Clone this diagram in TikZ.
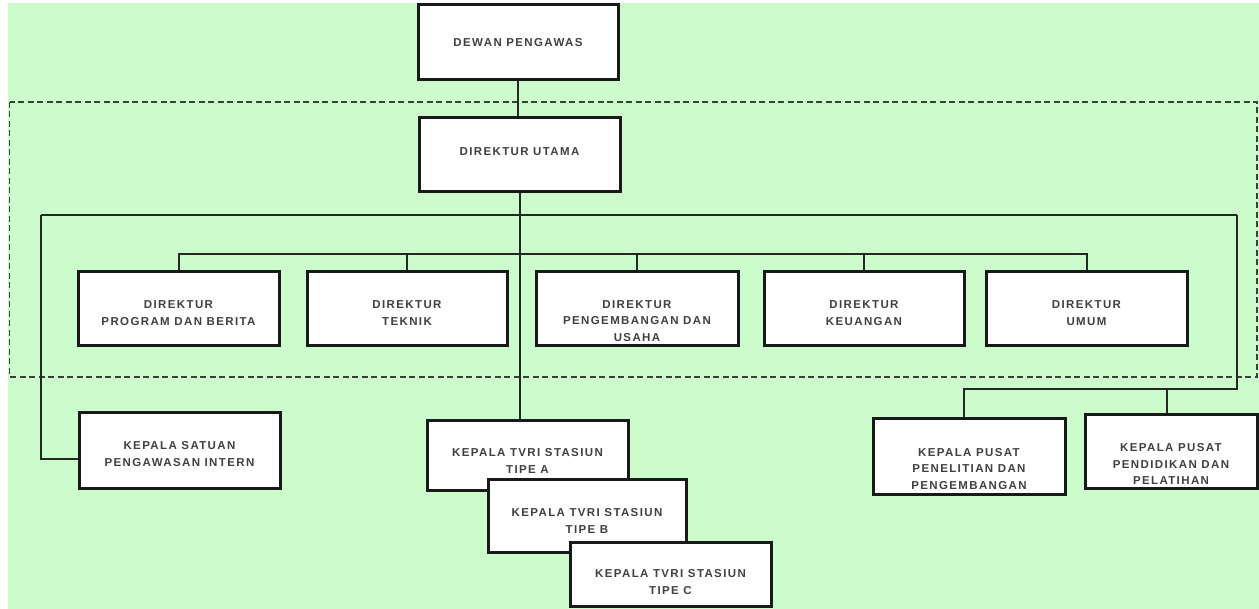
\documentclass[tikz,border=0pt]{standalone}
\usepackage{fontspec}
\newfontfamily\boxfont[LetterSpace=12]{Liberation Sans}
\definecolor{bggreen}{RGB}{204,252,204}
\definecolor{dashgray}{RGB}{55,65,55}
\begin{document}
\begin{tikzpicture}[x=1pt,y=-1pt,
  box/.style={draw=black!90, line width=3pt, fill=white, inner sep=0pt, minimum width=200pt, minimum height=74pt},
  txt/.style={font=\boxfont\bfseries\fontsize{11.5}{16.5}\selectfont, text=black!75, align=center, inner sep=0pt},
  conn/.style={draw=black!85, line width=2pt},
  grouprect/.style={draw=dashgray, line width=1.8pt, dash pattern=on 6pt off 3.5pt}
  ]
\useasboundingbox (0,0) rectangle (1259,609);
\fill[bggreen] (8,3) rectangle (1259,609);
\draw[grouprect] (9.5,102) rectangle (1257,377);

% coordinates for buses
\coordinate (bl) at (41,215);
\coordinate (br) at (1237,215);
\coordinate (rj) at (1237,389);
\coordinate (bus2) at (0,254);

% boxes
\node[box, minimum width=200pt, minimum height=75pt, label={[txt]center:DEWAN PENGAWAS}] (dp) at (518,42.5) {};
\node[box, minimum width=201pt, minimum height=74pt, label={[txt,yshift=3pt]center:DIREKTUR UTAMA}] (du) at (519.5,155) {};

\node[box, minimum width=201pt, label={[txt,yshift=-4pt]center:DIREKTUR\\PROGRAM DAN BERITA}] (d1) at (178.5,309) {};
\node[box, minimum width=200pt, label={[txt,yshift=-4pt]center:DIREKTUR\\TEKNIK}] (d2) at (407,309) {};
\node[box, minimum width=202pt, label={[txt,yshift=-12pt]center:DIREKTUR\\PENGEMBANGAN DAN\\USAHA}] (d3) at (637,309) {};
\node[box, minimum width=200pt, label={[txt,yshift=-4pt]center:DIREKTUR\\KEUANGAN}] (d4) at (864,309) {};
\node[box, minimum width=201pt, label={[txt,yshift=-4pt]center:DIREKTUR\\UMUM}] (d5) at (1086.5,309) {};

\node[box, minimum width=201pt, minimum height=76pt, label={[txt,yshift=-3pt]center:KEPALA SATUAN\\PENGAWASAN INTERN}] (spi) at (179.5,451) {};

% connectors (drawn before the lower boxes so boxes sit on top)
\draw[conn] (dp.south) -- (dp.south |- du.north);
\draw[conn] (bl) -- (br);
\draw[conn] (bl) |- ([yshift=-8pt]spi.west);
\draw[conn] (d1.north) |- (bus2 -| d5.north) -- (d5.north);
\foreach \d in {d2,d3,d4} \draw[conn] (\d.north) -- (\d.north |- bus2);

\node[box, minimum width=201pt, minimum height=70pt, label={[txt,yshift=-5pt]center:KEPALA TVRI STASIUN\\TIPE A}] (ta) at (527.5,456) {};
\draw[conn] (du.south) -- (du.south |- ta.north);
\node[box, minimum width=198pt, minimum height=72pt, label={[txt,yshift=-5pt]center:KEPALA TVRI STASIUN\\TIPE B}] (tb) at (587,516) {};
\node[box, minimum width=201pt, minimum height=64pt, label={[txt,yshift=-8pt]center:KEPALA TVRI STASIUN\\TIPE C}] (tc) at (670.5,574) {};

\node[box, minimum width=192pt, minimum height=76pt, label={[txt,yshift=-12pt]center:KEPALA PUSAT\\PENELITIAN DAN\\PENGEMBANGAN}] (p1) at (969,457) {};
\node[box, minimum width=172pt, minimum height=74pt, label={[txt,yshift=-12pt]center:KEPALA PUSAT\\PENDIDIKAN DAN\\PELATIHAN}] (p2) at (1171,452) {};

\draw[conn] (br) -- (rj) -| ([xshift=-5pt]p1.north);
\draw[conn] ([xshift=-4pt]p2.north) -- ([xshift=-4pt]p2.north |- rj);
\end{tikzpicture}
\end{document}
